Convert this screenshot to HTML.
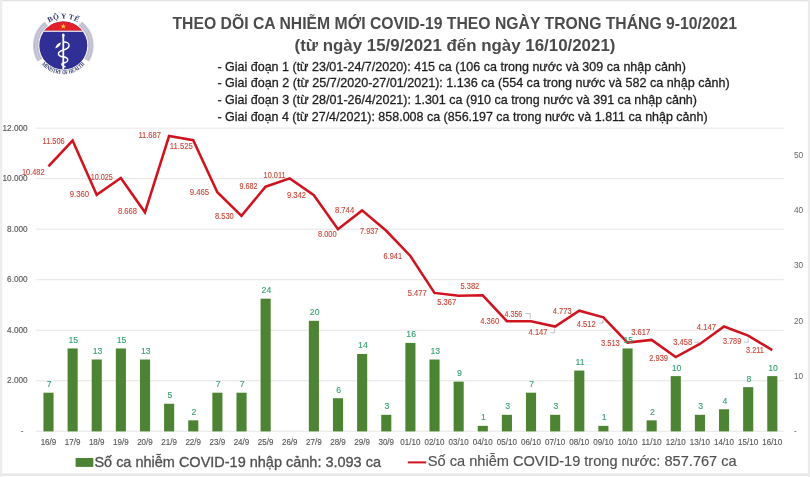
<!DOCTYPE html><html><head><meta charset="utf-8"><style>html,body{margin:0;padding:0;background:#fff;width:810px;height:477px;overflow:hidden}svg{display:block;filter:blur(0.3px)}text{font-family:"Liberation Sans",sans-serif}</style></head><body>
<svg width="810" height="477" viewBox="0 0 810 477">
<rect x="0" y="0" width="810" height="477" fill="#fff"/>
<rect x="0" y="0" width="810" height="1.3" fill="#e2e2e2"/>
<rect x="0" y="0" width="2.3" height="477" fill="#ededed"/>
<rect x="0" y="473.3" width="810" height="2.7" fill="#e9e9e9"/>
<rect x="807.9" y="0" width="2.1" height="477" fill="#ebebeb"/>
<g id="logo">
<defs>
<path id="arcTop" d="M 36.3 45.5 A 27 27 0 0 1 90.3 45.5" />
<path id="arcBot" d="M 34.6 45.5 A 28.7 28.7 0 0 0 92.0 45.5" />
<clipPath id="circClip"><circle cx="63.3" cy="45.5" r="24"/></clipPath>
</defs>
<path d="M 39.98 60.07 A 27.5 27.5 0 0 1 46.37 23.83" fill="none" stroke="#cbcbd8" stroke-width="5.8"/>
<path d="M 86.62 60.07 A 27.5 27.5 0 0 0 80.23 23.83" fill="none" stroke="#cbcbd8" stroke-width="5.8"/>
<path d="M 41.00 59.44 A 26.3 26.3 0 0 1 47.11 24.78" fill="none" stroke="#b6b6c8" stroke-width="0.9"/>
<path d="M 85.60 59.44 A 26.3 26.3 0 0 0 79.49 24.78" fill="none" stroke="#b6b6c8" stroke-width="0.9"/>
<path d="M 38.88 60.76 A 28.8 28.8 0 0 1 45.57 22.81" fill="none" stroke="#b6b6c8" stroke-width="0.9"/>
<path d="M 87.72 60.76 A 28.8 28.8 0 0 0 81.03 22.81" fill="none" stroke="#b6b6c8" stroke-width="0.9"/>
<circle cx="63.3" cy="45.5" r="24.7" fill="#fff"/>
<g clip-path="url(#circClip)">
<rect x="36" y="18" width="56" height="56" fill="#2f2f96"/>
<rect x="36" y="18" width="56" height="12.7" fill="#e2202a"/>
<rect x="36" y="30.6" width="56" height="1.3" fill="#f6dfe6"/>
</g>
<polygon points="63.3,23.4 64.05,25.4 66.1,25.4 64.45,26.65 65.1,28.7 63.3,27.45 61.5,28.7 62.15,26.65 60.5,25.4 62.55,25.4" fill="#f6c33a"/>
<line x1="63.3" y1="34.5" x2="63.3" y2="69.5" stroke="#fff" stroke-width="1.8"/>
<ellipse cx="63.3" cy="35.3" rx="1.3" ry="1.8" fill="#fff"/>
<path d="M 63.3 42 C 70.5 41.5, 71.5 48, 63.3 50 C 56.5 52, 57 56, 63.3 56.8 C 69.5 58, 69 62, 63.3 63 C 60.5 63.8, 62 66, 65.5 67" fill="none" stroke="#fff" stroke-width="1.4"/>
<path d="M 55.2 48.6 C 56 45, 58.5 43, 61 42.6 C 60.5 45.5, 58.5 47.5, 55.2 48.6 Z" fill="#fff"/>
<text font-size="7.4" font-weight="bold" fill="#2b3566" style="font-family:'Liberation Serif',serif"><textPath href="#arcTop" startOffset="50%" text-anchor="middle" textLength="30" lengthAdjust="spacing">BỘ Y TẾ</textPath></text>
<text font-size="6.2" font-weight="bold" fill="#2b3566" style="font-family:'Liberation Serif',serif"><textPath href="#arcBot" startOffset="50%" text-anchor="middle" textLength="49" lengthAdjust="spacingAndGlyphs">MINISTRY OF HEALTH</textPath></text>
</g>

<text x="172.5" y="28.8" font-size="16.3" font-weight="bold" fill="#4b4b4b" textLength="564.5" lengthAdjust="spacingAndGlyphs">THEO DÕI CA NHIỄM MỚI COVID-19 THEO NGÀY TRONG THÁNG 9-10/2021</text>
<text x="294.6" y="51.3" font-size="16.2" font-weight="bold" fill="#4b4b4b" textLength="320.8" lengthAdjust="spacingAndGlyphs">(từ ngày 15/9/2021 đến ngày 16/10/2021)</text>
<text x="217.4" y="70.6" font-size="12.9" fill="#1e1e1e" stroke="#1e1e1e" stroke-width="0.3" textLength="468.6" lengthAdjust="spacingAndGlyphs">- Giai đoạn 1 (từ 23/01-24/7/2020): 415 ca (106 ca trong nước và 309 ca nhập cảnh)</text>
<text x="217.4" y="87.4" font-size="12.9" fill="#1e1e1e" stroke="#1e1e1e" stroke-width="0.3" textLength="512.2" lengthAdjust="spacingAndGlyphs">- Giai đoạn 2 (từ 25/7/2020-27/01/2021): 1.136 ca (554 ca trong nước và 582 ca nhập cảnh)</text>
<text x="217.4" y="104.2" font-size="12.9" fill="#1e1e1e" stroke="#1e1e1e" stroke-width="0.3" textLength="479.6" lengthAdjust="spacingAndGlyphs">- Giai đoạn 3 (từ 28/01-26/4/2021): 1.301 ca (910 ca trong nước và 391 ca nhập cảnh)</text>
<text x="217.4" y="121.0" font-size="12.9" fill="#1e1e1e" stroke="#1e1e1e" stroke-width="0.3" textLength="490.2" lengthAdjust="spacingAndGlyphs">- Giai đoạn 4 (từ 27/4/2021): 858.008 ca (856.197 ca trong nước và 1.811 ca nhập cảnh)</text>
<line x1="36.2" y1="380.77" x2="783.8" y2="380.77" stroke="#e5e5e5" stroke-width="1"/>
<line x1="36.2" y1="330.24" x2="783.8" y2="330.24" stroke="#e5e5e5" stroke-width="1"/>
<line x1="36.2" y1="279.71" x2="783.8" y2="279.71" stroke="#e5e5e5" stroke-width="1"/>
<line x1="36.2" y1="229.18" x2="783.8" y2="229.18" stroke="#e5e5e5" stroke-width="1"/>
<line x1="36.2" y1="178.65" x2="783.8" y2="178.65" stroke="#e5e5e5" stroke-width="1"/>
<line x1="36.2" y1="128.12" x2="783.8" y2="128.12" stroke="#e5e5e5" stroke-width="1"/>
<line x1="36.2" y1="431.2" x2="783.8" y2="431.2" stroke="#e5e5e5" stroke-width="1"/>
<text x="27.6" y="383.27" font-size="8.2" fill="#595959" stroke="#595959" stroke-width="0.15" text-anchor="end">2.000</text>
<text x="27.6" y="332.74" font-size="8.2" fill="#595959" stroke="#595959" stroke-width="0.15" text-anchor="end">4.000</text>
<text x="27.6" y="282.21" font-size="8.2" fill="#595959" stroke="#595959" stroke-width="0.15" text-anchor="end">6.000</text>
<text x="27.6" y="231.68" font-size="8.2" fill="#595959" stroke="#595959" stroke-width="0.15" text-anchor="end">8.000</text>
<text x="27.6" y="181.15" font-size="8.2" fill="#595959" stroke="#595959" stroke-width="0.15" text-anchor="end">10.000</text>
<text x="27.6" y="130.62" font-size="8.2" fill="#595959" stroke="#595959" stroke-width="0.15" text-anchor="end">12.000</text>
<text x="22" y="434.3" font-size="8.2" fill="#595959" text-anchor="middle">-</text>
<text x="794" y="378.80" font-size="8.3" fill="#666">10</text>
<text x="794" y="323.50" font-size="8.3" fill="#666">20</text>
<text x="794" y="268.20" font-size="8.3" fill="#666">30</text>
<text x="794" y="212.90" font-size="8.3" fill="#666">40</text>
<text x="794" y="157.60" font-size="8.3" fill="#666">50</text>
<text x="794" y="434.3" font-size="8.2" fill="#595959">-</text>
<rect x="43.45" y="392.69" width="10.1" height="38.71" fill="#4d8433"/>
<rect x="67.58" y="348.45" width="10.1" height="82.95" fill="#4d8433"/>
<rect x="91.70" y="359.51" width="10.1" height="71.89" fill="#4d8433"/>
<rect x="115.83" y="348.45" width="10.1" height="82.95" fill="#4d8433"/>
<rect x="139.96" y="359.51" width="10.1" height="71.89" fill="#4d8433"/>
<rect x="164.08" y="403.75" width="10.1" height="27.65" fill="#4d8433"/>
<rect x="188.21" y="420.34" width="10.1" height="11.06" fill="#4d8433"/>
<rect x="212.34" y="392.69" width="10.1" height="38.71" fill="#4d8433"/>
<rect x="236.47" y="392.69" width="10.1" height="38.71" fill="#4d8433"/>
<rect x="260.59" y="298.68" width="10.1" height="132.72" fill="#4d8433"/>
<rect x="308.85" y="320.80" width="10.1" height="110.60" fill="#4d8433"/>
<rect x="332.97" y="398.22" width="10.1" height="33.18" fill="#4d8433"/>
<rect x="357.10" y="353.98" width="10.1" height="77.42" fill="#4d8433"/>
<rect x="381.23" y="414.81" width="10.1" height="16.59" fill="#4d8433"/>
<rect x="405.35" y="342.92" width="10.1" height="88.48" fill="#4d8433"/>
<rect x="429.48" y="359.51" width="10.1" height="71.89" fill="#4d8433"/>
<rect x="453.61" y="381.63" width="10.1" height="49.77" fill="#4d8433"/>
<rect x="477.74" y="425.87" width="10.1" height="5.53" fill="#4d8433"/>
<rect x="501.86" y="414.81" width="10.1" height="16.59" fill="#4d8433"/>
<rect x="525.99" y="392.69" width="10.1" height="38.71" fill="#4d8433"/>
<rect x="550.12" y="414.81" width="10.1" height="16.59" fill="#4d8433"/>
<rect x="574.24" y="370.57" width="10.1" height="60.83" fill="#4d8433"/>
<rect x="598.37" y="425.87" width="10.1" height="5.53" fill="#4d8433"/>
<rect x="622.50" y="348.45" width="10.1" height="82.95" fill="#4d8433"/>
<rect x="646.62" y="420.34" width="10.1" height="11.06" fill="#4d8433"/>
<rect x="670.75" y="376.10" width="10.1" height="55.30" fill="#4d8433"/>
<rect x="694.88" y="414.81" width="10.1" height="16.59" fill="#4d8433"/>
<rect x="719.01" y="409.28" width="10.1" height="22.12" fill="#4d8433"/>
<rect x="743.13" y="387.16" width="10.1" height="44.24" fill="#4d8433"/>
<rect x="767.26" y="376.10" width="10.1" height="55.30" fill="#4d8433"/>
<polyline points="48.45,166.47 72.58,140.60 96.70,194.82 120.83,178.02 144.96,212.30 169.08,136.03 193.21,140.12 217.34,192.17 241.47,215.79 265.59,186.68 289.72,178.37 313.85,195.27 337.97,229.18 362.10,210.38 386.23,230.77 410.35,255.94 434.48,292.92 458.61,295.70 482.74,295.32 506.86,321.14 530.99,321.25 555.12,326.53 579.24,310.71 603.37,317.30 627.50,342.54 651.62,339.92 675.75,357.05 699.88,343.93 724.01,326.53 748.13,335.57 772.26,350.17" fill="none" stroke="#d0141f" stroke-width="2.55" stroke-linejoin="miter"/>
<path d="M525.6 313.5 H530.2 V319" fill="none" stroke="#a6a6a6" stroke-width="0.7"/>
<path d="M550.4 332.8 H554.6 V328.7" fill="none" stroke="#a6a6a6" stroke-width="0.7"/>
<path d="M599.1 323.1 H603 V319.8" fill="none" stroke="#a6a6a6" stroke-width="0.7"/>
<path d="M694.7 342.2 H699" fill="none" stroke="#a6a6a6" stroke-width="0.7"/>
<path d="M744.1 342.2 H748.2 V338.5" fill="none" stroke="#a6a6a6" stroke-width="0.7"/>
<text x="49.25" y="387.19" font-size="8.7" fill="#35a06e" stroke="#35a06e" stroke-width="0.12" text-anchor="middle">7</text>
<text x="73.38" y="342.95" font-size="8.7" fill="#35a06e" stroke="#35a06e" stroke-width="0.12" text-anchor="middle">15</text>
<text x="97.50" y="354.01" font-size="8.7" fill="#35a06e" stroke="#35a06e" stroke-width="0.12" text-anchor="middle">13</text>
<text x="121.63" y="342.95" font-size="8.7" fill="#35a06e" stroke="#35a06e" stroke-width="0.12" text-anchor="middle">15</text>
<text x="145.76" y="354.01" font-size="8.7" fill="#35a06e" stroke="#35a06e" stroke-width="0.12" text-anchor="middle">13</text>
<text x="169.88" y="398.25" font-size="8.7" fill="#35a06e" stroke="#35a06e" stroke-width="0.12" text-anchor="middle">5</text>
<text x="194.01" y="414.84" font-size="8.7" fill="#35a06e" stroke="#35a06e" stroke-width="0.12" text-anchor="middle">2</text>
<text x="218.14" y="387.19" font-size="8.7" fill="#35a06e" stroke="#35a06e" stroke-width="0.12" text-anchor="middle">7</text>
<text x="242.27" y="387.19" font-size="8.7" fill="#35a06e" stroke="#35a06e" stroke-width="0.12" text-anchor="middle">7</text>
<text x="266.39" y="293.18" font-size="8.7" fill="#35a06e" stroke="#35a06e" stroke-width="0.12" text-anchor="middle">24</text>
<text x="314.65" y="315.30" font-size="8.7" fill="#35a06e" stroke="#35a06e" stroke-width="0.12" text-anchor="middle">20</text>
<text x="338.77" y="392.72" font-size="8.7" fill="#35a06e" stroke="#35a06e" stroke-width="0.12" text-anchor="middle">6</text>
<text x="362.90" y="348.48" font-size="8.7" fill="#35a06e" stroke="#35a06e" stroke-width="0.12" text-anchor="middle">14</text>
<text x="387.03" y="409.31" font-size="8.7" fill="#35a06e" stroke="#35a06e" stroke-width="0.12" text-anchor="middle">3</text>
<text x="411.15" y="337.42" font-size="8.7" fill="#35a06e" stroke="#35a06e" stroke-width="0.12" text-anchor="middle">16</text>
<text x="435.28" y="354.01" font-size="8.7" fill="#35a06e" stroke="#35a06e" stroke-width="0.12" text-anchor="middle">13</text>
<text x="459.41" y="376.13" font-size="8.7" fill="#35a06e" stroke="#35a06e" stroke-width="0.12" text-anchor="middle">9</text>
<text x="483.54" y="420.37" font-size="8.7" fill="#35a06e" stroke="#35a06e" stroke-width="0.12" text-anchor="middle">1</text>
<text x="507.66" y="409.31" font-size="8.7" fill="#35a06e" stroke="#35a06e" stroke-width="0.12" text-anchor="middle">3</text>
<text x="531.79" y="387.19" font-size="8.7" fill="#35a06e" stroke="#35a06e" stroke-width="0.12" text-anchor="middle">7</text>
<text x="555.92" y="409.31" font-size="8.7" fill="#35a06e" stroke="#35a06e" stroke-width="0.12" text-anchor="middle">3</text>
<text x="580.04" y="365.07" font-size="8.7" fill="#35a06e" stroke="#35a06e" stroke-width="0.12" text-anchor="middle">11</text>
<text x="604.17" y="420.37" font-size="8.7" fill="#35a06e" stroke="#35a06e" stroke-width="0.12" text-anchor="middle">1</text>
<text x="628.30" y="342.95" font-size="8.7" fill="#35a06e" stroke="#35a06e" stroke-width="0.12" text-anchor="middle">15</text>
<text x="652.42" y="414.84" font-size="8.7" fill="#35a06e" stroke="#35a06e" stroke-width="0.12" text-anchor="middle">2</text>
<text x="676.55" y="370.60" font-size="8.7" fill="#35a06e" stroke="#35a06e" stroke-width="0.12" text-anchor="middle">10</text>
<text x="700.68" y="409.31" font-size="8.7" fill="#35a06e" stroke="#35a06e" stroke-width="0.12" text-anchor="middle">3</text>
<text x="724.81" y="403.78" font-size="8.7" fill="#35a06e" stroke="#35a06e" stroke-width="0.12" text-anchor="middle">4</text>
<text x="748.93" y="381.66" font-size="8.7" fill="#35a06e" stroke="#35a06e" stroke-width="0.12" text-anchor="middle">8</text>
<text x="773.06" y="370.60" font-size="8.7" fill="#35a06e" stroke="#35a06e" stroke-width="0.12" text-anchor="middle">10</text>
<text x="22.00" y="174.50" font-size="8.7" fill="#cd4436" stroke="#cd4436" stroke-width="0.12" textLength="22.50" lengthAdjust="spacingAndGlyphs">10.482</text>
<text x="42.60" y="143.60" font-size="8.7" fill="#cd4436" stroke="#cd4436" stroke-width="0.12" textLength="22.00" lengthAdjust="spacingAndGlyphs">11.506</text>
<text x="69.80" y="197.10" font-size="8.7" fill="#cd4436" stroke="#cd4436" stroke-width="0.12" textLength="19.30" lengthAdjust="spacingAndGlyphs">9.360</text>
<text x="90.80" y="180.30" font-size="8.7" fill="#cd4436" stroke="#cd4436" stroke-width="0.12" textLength="22.00" lengthAdjust="spacingAndGlyphs">10.025</text>
<text x="118.00" y="214.30" font-size="8.7" fill="#cd4436" stroke="#cd4436" stroke-width="0.12" textLength="19.00" lengthAdjust="spacingAndGlyphs">8.668</text>
<text x="138.40" y="138.40" font-size="8.7" fill="#cd4436" stroke="#cd4436" stroke-width="0.12" textLength="22.60" lengthAdjust="spacingAndGlyphs">11.687</text>
<text x="169.80" y="148.90" font-size="8.7" fill="#cd4436" stroke="#cd4436" stroke-width="0.12" textLength="23.10" lengthAdjust="spacingAndGlyphs">11.525</text>
<text x="189.70" y="195.40" font-size="8.7" fill="#cd4436" stroke="#cd4436" stroke-width="0.12" textLength="19.50" lengthAdjust="spacingAndGlyphs">9.465</text>
<text x="214.90" y="218.50" font-size="8.7" fill="#cd4436" stroke="#cd4436" stroke-width="0.12" textLength="18.90" lengthAdjust="spacingAndGlyphs">8.530</text>
<text x="239.40" y="189.30" font-size="8.7" fill="#cd4436" stroke="#cd4436" stroke-width="0.12" textLength="18.00" lengthAdjust="spacingAndGlyphs">9.682</text>
<text x="263.60" y="178.20" font-size="8.7" fill="#cd4436" stroke="#cd4436" stroke-width="0.12" textLength="22.00" lengthAdjust="spacingAndGlyphs">10.011</text>
<text x="287.00" y="198.10" font-size="8.7" fill="#cd4436" stroke="#cd4436" stroke-width="0.12" textLength="19.00" lengthAdjust="spacingAndGlyphs">9.342</text>
<text x="318.00" y="237.40" font-size="8.7" fill="#cd4436" stroke="#cd4436" stroke-width="0.12" textLength="18.60" lengthAdjust="spacingAndGlyphs">8.000</text>
<text x="334.90" y="213.20" font-size="8.7" fill="#cd4436" stroke="#cd4436" stroke-width="0.12" textLength="19.30" lengthAdjust="spacingAndGlyphs">8.744</text>
<text x="360.00" y="233.90" font-size="8.7" fill="#cd4436" stroke="#cd4436" stroke-width="0.12" textLength="18.40" lengthAdjust="spacingAndGlyphs">7.937</text>
<text x="383.60" y="259.10" font-size="8.7" fill="#cd4436" stroke="#cd4436" stroke-width="0.12" textLength="18.40" lengthAdjust="spacingAndGlyphs">6.941</text>
<text x="407.70" y="295.60" font-size="8.7" fill="#cd4436" stroke="#cd4436" stroke-width="0.12" textLength="18.90" lengthAdjust="spacingAndGlyphs">5.477</text>
<text x="437.30" y="305.40" font-size="8.7" fill="#cd4436" stroke="#cd4436" stroke-width="0.12" textLength="18.90" lengthAdjust="spacingAndGlyphs">5.367</text>
<text x="460.40" y="289.30" font-size="8.7" fill="#cd4436" stroke="#cd4436" stroke-width="0.12" textLength="18.90" lengthAdjust="spacingAndGlyphs">5.382</text>
<text x="480.30" y="324.30" font-size="8.7" fill="#cd4436" stroke="#cd4436" stroke-width="0.12" textLength="18.90" lengthAdjust="spacingAndGlyphs">4.360</text>
<text x="504.50" y="316.90" font-size="8.7" fill="#cd4436" stroke="#cd4436" stroke-width="0.12" textLength="17.80" lengthAdjust="spacingAndGlyphs">4.356</text>
<text x="528.60" y="335.40" font-size="8.7" fill="#cd4436" stroke="#cd4436" stroke-width="0.12" textLength="18.90" lengthAdjust="spacingAndGlyphs">4.147</text>
<text x="552.70" y="313.80" font-size="8.7" fill="#cd4436" stroke="#cd4436" stroke-width="0.12" textLength="18.90" lengthAdjust="spacingAndGlyphs">4.773</text>
<text x="576.80" y="326.90" font-size="8.7" fill="#cd4436" stroke="#cd4436" stroke-width="0.12" textLength="18.90" lengthAdjust="spacingAndGlyphs">4.512</text>
<text x="600.90" y="345.90" font-size="8.7" fill="#cd4436" stroke="#cd4436" stroke-width="0.12" textLength="18.90" lengthAdjust="spacingAndGlyphs">3.513</text>
<text x="631.30" y="334.90" font-size="8.7" fill="#cd4436" stroke="#cd4436" stroke-width="0.12" textLength="18.90" lengthAdjust="spacingAndGlyphs">3.617</text>
<text x="649.20" y="360.50" font-size="8.7" fill="#cd4436" stroke="#cd4436" stroke-width="0.12" textLength="18.80" lengthAdjust="spacingAndGlyphs">2.939</text>
<text x="673.30" y="345.40" font-size="8.7" fill="#cd4436" stroke="#cd4436" stroke-width="0.12" textLength="18.90" lengthAdjust="spacingAndGlyphs">3.458</text>
<text x="696.80" y="329.70" font-size="8.7" fill="#cd4436" stroke="#cd4436" stroke-width="0.12" textLength="19.20" lengthAdjust="spacingAndGlyphs">4.147</text>
<text x="723.00" y="344.40" font-size="8.7" fill="#cd4436" stroke="#cd4436" stroke-width="0.12" textLength="18.20" lengthAdjust="spacingAndGlyphs">3.789</text>
<text x="746.00" y="353.20" font-size="8.7" fill="#cd4436" stroke="#cd4436" stroke-width="0.12" textLength="17.90" lengthAdjust="spacingAndGlyphs">3.211</text>
<text x="40.67" y="444.6" font-size="8.6" fill="#595959" stroke="#595959" stroke-width="0.15" textLength="15.57" lengthAdjust="spacingAndGlyphs">16/9</text>
<text x="64.79" y="444.6" font-size="8.6" fill="#595959" stroke="#595959" stroke-width="0.15" textLength="15.57" lengthAdjust="spacingAndGlyphs">17/9</text>
<text x="88.92" y="444.6" font-size="8.6" fill="#595959" stroke="#595959" stroke-width="0.15" textLength="15.57" lengthAdjust="spacingAndGlyphs">18/9</text>
<text x="113.05" y="444.6" font-size="8.6" fill="#595959" stroke="#595959" stroke-width="0.15" textLength="15.57" lengthAdjust="spacingAndGlyphs">19/9</text>
<text x="137.17" y="444.6" font-size="8.6" fill="#595959" stroke="#595959" stroke-width="0.15" textLength="15.57" lengthAdjust="spacingAndGlyphs">20/9</text>
<text x="161.30" y="444.6" font-size="8.6" fill="#595959" stroke="#595959" stroke-width="0.15" textLength="15.57" lengthAdjust="spacingAndGlyphs">21/9</text>
<text x="185.43" y="444.6" font-size="8.6" fill="#595959" stroke="#595959" stroke-width="0.15" textLength="15.57" lengthAdjust="spacingAndGlyphs">22/9</text>
<text x="209.56" y="444.6" font-size="8.6" fill="#595959" stroke="#595959" stroke-width="0.15" textLength="15.57" lengthAdjust="spacingAndGlyphs">23/9</text>
<text x="233.68" y="444.6" font-size="8.6" fill="#595959" stroke="#595959" stroke-width="0.15" textLength="15.57" lengthAdjust="spacingAndGlyphs">24/9</text>
<text x="257.81" y="444.6" font-size="8.6" fill="#595959" stroke="#595959" stroke-width="0.15" textLength="15.57" lengthAdjust="spacingAndGlyphs">25/9</text>
<text x="281.94" y="444.6" font-size="8.6" fill="#595959" stroke="#595959" stroke-width="0.15" textLength="15.57" lengthAdjust="spacingAndGlyphs">26/9</text>
<text x="306.06" y="444.6" font-size="8.6" fill="#595959" stroke="#595959" stroke-width="0.15" textLength="15.57" lengthAdjust="spacingAndGlyphs">27/9</text>
<text x="330.19" y="444.6" font-size="8.6" fill="#595959" stroke="#595959" stroke-width="0.15" textLength="15.57" lengthAdjust="spacingAndGlyphs">28/9</text>
<text x="354.32" y="444.6" font-size="8.6" fill="#595959" stroke="#595959" stroke-width="0.15" textLength="15.57" lengthAdjust="spacingAndGlyphs">29/9</text>
<text x="378.44" y="444.6" font-size="8.6" fill="#595959" stroke="#595959" stroke-width="0.15" textLength="15.57" lengthAdjust="spacingAndGlyphs">30/9</text>
<text x="400.35" y="444.6" font-size="8.6" fill="#595959" stroke="#595959" stroke-width="0.15" textLength="20.02" lengthAdjust="spacingAndGlyphs">01/10</text>
<text x="424.47" y="444.6" font-size="8.6" fill="#595959" stroke="#595959" stroke-width="0.15" textLength="20.02" lengthAdjust="spacingAndGlyphs">02/10</text>
<text x="448.60" y="444.6" font-size="8.6" fill="#595959" stroke="#595959" stroke-width="0.15" textLength="20.02" lengthAdjust="spacingAndGlyphs">03/10</text>
<text x="472.73" y="444.6" font-size="8.6" fill="#595959" stroke="#595959" stroke-width="0.15" textLength="20.02" lengthAdjust="spacingAndGlyphs">04/10</text>
<text x="496.85" y="444.6" font-size="8.6" fill="#595959" stroke="#595959" stroke-width="0.15" textLength="20.02" lengthAdjust="spacingAndGlyphs">05/10</text>
<text x="520.98" y="444.6" font-size="8.6" fill="#595959" stroke="#595959" stroke-width="0.15" textLength="20.02" lengthAdjust="spacingAndGlyphs">06/10</text>
<text x="545.11" y="444.6" font-size="8.6" fill="#595959" stroke="#595959" stroke-width="0.15" textLength="20.02" lengthAdjust="spacingAndGlyphs">07/10</text>
<text x="569.24" y="444.6" font-size="8.6" fill="#595959" stroke="#595959" stroke-width="0.15" textLength="20.02" lengthAdjust="spacingAndGlyphs">08/10</text>
<text x="593.36" y="444.6" font-size="8.6" fill="#595959" stroke="#595959" stroke-width="0.15" textLength="20.02" lengthAdjust="spacingAndGlyphs">09/10</text>
<text x="617.49" y="444.6" font-size="8.6" fill="#595959" stroke="#595959" stroke-width="0.15" textLength="20.02" lengthAdjust="spacingAndGlyphs">10/10</text>
<text x="641.62" y="444.6" font-size="8.6" fill="#595959" stroke="#595959" stroke-width="0.15" textLength="20.02" lengthAdjust="spacingAndGlyphs">11/10</text>
<text x="665.74" y="444.6" font-size="8.6" fill="#595959" stroke="#595959" stroke-width="0.15" textLength="20.02" lengthAdjust="spacingAndGlyphs">12/10</text>
<text x="689.87" y="444.6" font-size="8.6" fill="#595959" stroke="#595959" stroke-width="0.15" textLength="20.02" lengthAdjust="spacingAndGlyphs">13/10</text>
<text x="714.00" y="444.6" font-size="8.6" fill="#595959" stroke="#595959" stroke-width="0.15" textLength="20.02" lengthAdjust="spacingAndGlyphs">14/10</text>
<text x="738.12" y="444.6" font-size="8.6" fill="#595959" stroke="#595959" stroke-width="0.15" textLength="20.02" lengthAdjust="spacingAndGlyphs">15/10</text>
<text x="762.25" y="444.6" font-size="8.6" fill="#595959" stroke="#595959" stroke-width="0.15" textLength="20.02" lengthAdjust="spacingAndGlyphs">16/10</text>
<rect x="75.6" y="458" width="17.7" height="8.9" fill="#4d8433"/>
<text x="94.4" y="466.9" font-size="14.2" fill="#505050" stroke="#505050" stroke-width="0.3" textLength="286.6" lengthAdjust="spacingAndGlyphs">Số ca nhiễm COVID-19 nhập cảnh: 3.093 ca</text>
<line x1="407.8" y1="462.4" x2="426.2" y2="462.4" stroke="#d0141f" stroke-width="2"/>
<text x="427.8" y="466.2" font-size="14.5" fill="#505050" stroke="#505050" stroke-width="0.15" textLength="308.9" lengthAdjust="spacingAndGlyphs">Số ca nhiễm COVID-19 trong nước: 857.767 ca</text>
</svg></body></html>
